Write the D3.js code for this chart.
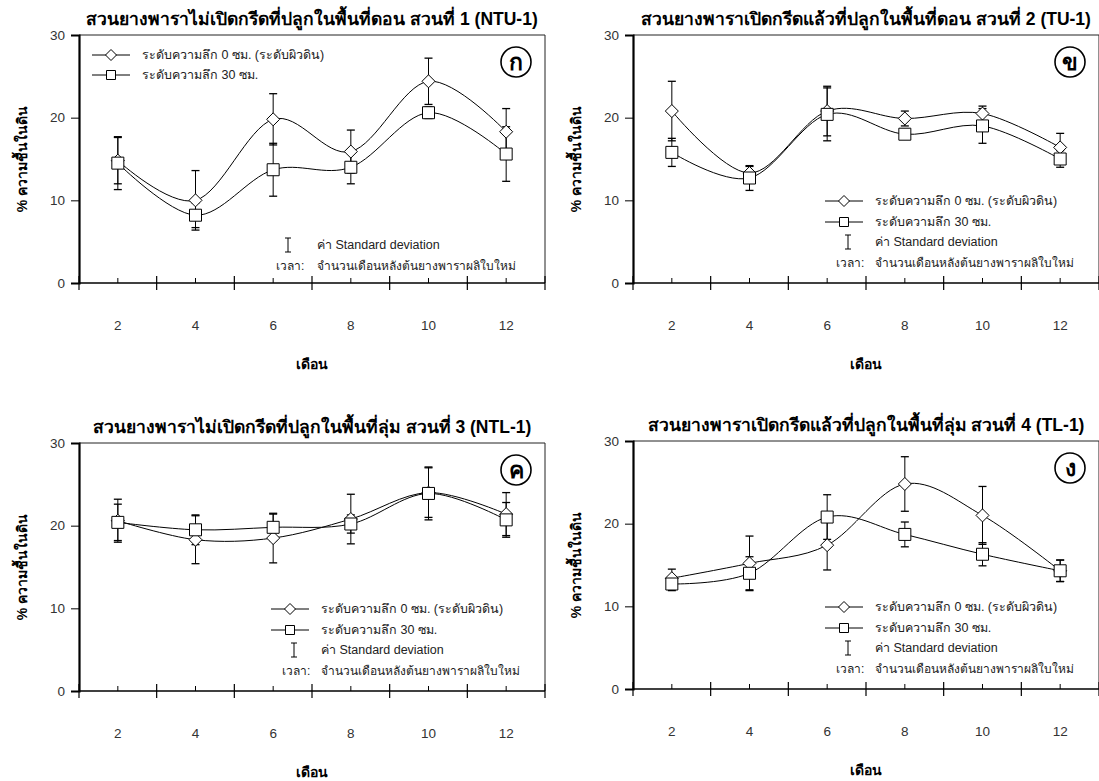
<!DOCTYPE html>
<html>
<head>
<meta charset="utf-8">
<script src="https://cdn.jsdelivr.net/npm/d3@7"></script>
<style>
  body { margin: 0; background: #fff; }
  svg { font-family: "Liberation Sans", Arial, sans-serif; }
</style>
</head>
<body>
<svg id="chart" width="1099" height="781"></svg>
<script>
// months after flush of new leaves
const months = [2, 4, 6, 8, 10, 12];
const yTicks = [0, 10, 20, 30];

const titles = [
  "สวนยางพาราไม่เปิดกรีดที่ปลูกในพื้นที่ดอน สวนที่ 1 (NTU-1)",
  "สวนยางพาราเปิดกรีดแล้วที่ปลูกในพื้นที่ดอน สวนที่ 2 (TU-1)",
  "สวนยางพาราไม่เปิดกรีดที่ปลูกในพื้นที่ลุ่ม สวนที่ 3 (NTL-1)",
  "สวนยางพาราเปิดกรีดแล้วที่ปลูกในพื้นที่ลุ่ม สวนที่ 4 (TL-1)"
];
const badges = ["ก", "ข", "ค", "ง"];

// depth 0 cm (surface) and 30 cm, mean and SD per panel
const surf1 = [14.8, 10.0, 19.8, 15.9, 24.4, 18.3];
const surfSd1 = [2.8, 3.6, 3.1, 2.6, 2.8, 2.8];
const deep1 = [14.5, 8.2, 13.7, 14.0, 20.6, 15.6];
const deepSd1 = [3.2, 1.5, 3.2, 2.0, 0.7, 3.3];

const surf2 = [20.8, 13.3, 20.8, 19.9, 20.5, 16.4];
const surfSd2 = [3.6, 0.8, 3.0, 0.9, 0.9, 1.7];
const deep2 = [15.8, 12.7, 20.4, 18.0, 19.0, 15.0];
const deepSd2 = [1.7, 1.5, 3.2, 0.6, 2.1, 1.0];

const surf3 = [20.6, 18.3, 18.5, 20.8, 24.0, 21.4];
const surfSd3 = [2.6, 2.9, 3.0, 3.0, 3.0, 2.6];
const deep3 = [20.4, 19.5, 19.8, 20.2, 23.9, 20.7];
const deepSd3 = [2.2, 1.8, 1.6, 1.1, 3.2, 2.1];

const surf4 = [13.4, 15.2, 17.4, 24.8, 21.0, 14.3];
const surfSd4 = [1.1, 3.3, 3.0, 3.3, 3.5, 1.3];
const deep4 = [12.7, 14.0, 20.8, 18.7, 16.3, 14.3];
const deepSd4 = [0.8, 2.0, 2.7, 1.5, 1.4, 1.3];

const legendSurf = "ระดับความลึก 0 ซม. (ระดับผิวดิน)";
const legendDeep = "ระดับความลึก 30 ซม.";
const legendSd = "ค่า Standard deviation";
const timeLabel = "เวลา:";
const timeText = "จำนวนเดือนหลังต้นยางพาราผลิใบใหม่";
const yTitle = "% ความชื้นในดิน";
const xTitle = "เดือน";

const svg = d3.select("#chart");
const W = 466, H = 248;

const panels = [
  { left: 79, top: 35, surf: surf1, surfSd: surfSd1, deep: deep1, deepSd: deepSd1, legendTop: true },
  { left: 633, top: 35, surf: surf2, surfSd: surfSd2, deep: deep2, deepSd: deepSd2, legendTop: false },
  { left: 79, top: 443, surf: surf3, surfSd: surfSd3, deep: deep3, deepSd: deepSd3, legendTop: false },
  { left: 633, top: 441, surf: surf4, surfSd: surfSd4, deep: deep4, deepSd: deepSd4, legendTop: false }
];

function diamond(sel, r) {
  sel.attr("d", `M0,${-r}L${r},0L0,${r}L${-r},0Z`);
}
function square(sel, s) {
  sel.attr("d", `M${-s},${-s}H${s}V${s}H${-s}Z`);
}

panels.forEach((p, i) => {
  const g = svg.append("g").attr("transform", `translate(${p.left},${p.top})`);
  const x = d3.scaleLinear().domain([1, 13]).range([0, W]);
  const y = d3.scaleLinear().domain([0, 30]).range([H, 0]);

  // title
  g.append("text")
    .attr("x", W / 2).attr("y", -10)
    .attr("text-anchor", "middle")
    .attr("font-size", 17.5).attr("font-weight", "bold")
    .text(titles[i]);

  // frame top / right
  g.append("path")
    .attr("d", `M0,0H${W}V${H}`)
    .attr("fill", "none").attr("stroke", "#222").attr("stroke-width", 1);

  // y axis
  const yAxis = g.append("g")
    .call(d3.axisLeft(y).tickValues(yTicks).tickSize(8).tickPadding(6));
  yAxis.select(".domain").attr("stroke-width", 2.2).attr("stroke", "#000");
  yAxis.selectAll("text").attr("font-size", 13.5).attr("fill", "#333")
    .attr("font-family", "'Liberation Sans', Arial, sans-serif");

  // x axis: major ticks at odd months (crossing), minor at even months (inside), labels at even
  const xAxis = g.append("g").attr("transform", `translate(0,${H})`);
  xAxis.append("line").attr("x1", 0).attr("x2", W)
    .attr("stroke", "#000").attr("stroke-width", 1.6);
  xAxis.selectAll(".maj").data(d3.range(1, 14, 2)).enter().append("line")
    .attr("x1", d => x(d)).attr("x2", d => x(d))
    .attr("y1", -7).attr("y2", 7)
    .attr("stroke", "#000").attr("stroke-width", 1.2);
  xAxis.selectAll(".min").data(months).enter().append("line")
    .attr("x1", d => x(d)).attr("x2", d => x(d))
    .attr("y1", -5).attr("y2", 0)
    .attr("stroke", "#000").attr("stroke-width", 1);
  xAxis.selectAll(".lab").data(months).enter().append("text")
    .attr("x", d => x(d)).attr("y", 47)
    .attr("text-anchor", "middle")
    .attr("font-size", 13.5).attr("fill", "#333")
    .text(d => d);

  g.append("text")
    .attr("x", W / 2).attr("y", H + 86)
    .attr("text-anchor", "middle")
    .attr("font-size", 14).attr("font-weight", "bold")
    .text(xTitle);

  g.append("text")
    .attr("transform", `translate(-52,${H / 2}) rotate(-90)`)
    .attr("text-anchor", "middle")
    .attr("font-size", 14).attr("font-weight", "bold")
    .text(yTitle);

  // badge
  const bx = W - 29, by = 27;
  g.append("circle").attr("cx", bx).attr("cy", by).attr("r", 15)
    .attr("fill", "#fff").attr("stroke", "#000").attr("stroke-width", 1.6);
  g.append("text").attr("x", bx).attr("y", by + 8)
    .attr("text-anchor", "middle").attr("font-size", 23).attr("font-weight", "bold")
    .text(badges[i]);

  // series
  const series = [
    { vals: p.surf, sd: p.surfSd, shape: "d" },
    { vals: p.deep, sd: p.deepSd, shape: "s" }
  ];
  const line = d3.line().x(d => x(d[0])).y(d => y(d[1])).curve(d3.curveCatmullRom.alpha(0));

  series.forEach(s => {
    const pts = months.map((m, k) => [m, s.vals[k], s.sd[k]]);
    const eb = g.append("g");
    eb.selectAll("line.v").data(pts).enter().append("line")
      .attr("x1", d => x(d[0])).attr("x2", d => x(d[0]))
      .attr("y1", d => y(d[1] - d[2])).attr("y2", d => y(d[1] + d[2]))
      .attr("stroke", "#000").attr("stroke-width", 1);
    [-1, 1].forEach(sg => {
      eb.selectAll("line.c" + sg).data(pts).enter().append("line")
        .attr("x1", d => x(d[0]) - 4).attr("x2", d => x(d[0]) + 4)
        .attr("y1", d => y(d[1] + sg * d[2])).attr("y2", d => y(d[1] + sg * d[2]))
        .attr("stroke", "#000").attr("stroke-width", 1.3);
    });
  });

  series.forEach(s => {
    const pts = months.map((m, k) => [m, s.vals[k]]);
    g.append("path").datum(pts)
      .attr("d", line)
      .attr("fill", "none").attr("stroke", "#000").attr("stroke-width", 1);
  });

  series.forEach(s => {
    const pts = months.map((m, k) => [m, s.vals[k]]);
    g.selectAll(null).data(pts).enter().append("path")
      .attr("transform", d => `translate(${x(d[0])},${y(d[1])})`)
      .call(s.shape === "d" ? sel => diamond(sel, 6.5) : sel => square(sel, 6))
      .attr("fill", "#fff").attr("stroke", "#000").attr("stroke-width", 1);
  });

  // legend
  let lx, tx, rows;
  if (p.legendTop) {
    lx = 13; tx = 63;
    rows = [20, 40];
  } else {
    lx = 192; tx = 242;
    rows = [166, 187];
  }
  const lg = g.append("g").attr("font-size", 12.5).attr("fill", "#222");
  [["d", legendSurf], ["s", legendDeep]].forEach((r, k) => {
    lg.append("line").attr("x1", lx).attr("x2", lx + 38)
      .attr("y1", rows[k]).attr("y2", rows[k])
      .attr("stroke", "#000").attr("stroke-width", 1);
    lg.append("path").attr("transform", `translate(${lx + 19},${rows[k]})`)
      .call(r[0] === "d" ? sel => diamond(sel, 5.5) : sel => square(sel, 4.5))
      .attr("fill", "#fff").attr("stroke", "#000");
    lg.append("text").attr("x", tx).attr("y", rows[k] + 4).text(r[1]);
  });

  let sdY, timeY, sdX, sdTx, timeX;
  if (p.legendTop) { sdY = 210; timeY = 231; sdX = 209; sdTx = 238; timeX = 197; }
  else { sdY = 207; timeY = 228; sdX = 215; sdTx = 242; timeX = 203; }
  lg.append("path")
    .attr("d", `M${sdX - 3},${sdY - 7}H${sdX + 3}M${sdX},${sdY - 7}V${sdY + 7}M${sdX - 3},${sdY + 7}H${sdX + 3}`)
    .attr("stroke", "#000").attr("fill", "none");
  lg.append("text").attr("x", sdTx).attr("y", sdY + 4).text(legendSd);
  lg.append("text").attr("x", timeX).attr("y", timeY + 4).attr("font-size", 12).text(timeLabel);
  lg.append("text").attr("x", sdTx).attr("y", timeY + 4).attr("font-size", 12).text(timeText);
});
</script>
</body>
</html>
